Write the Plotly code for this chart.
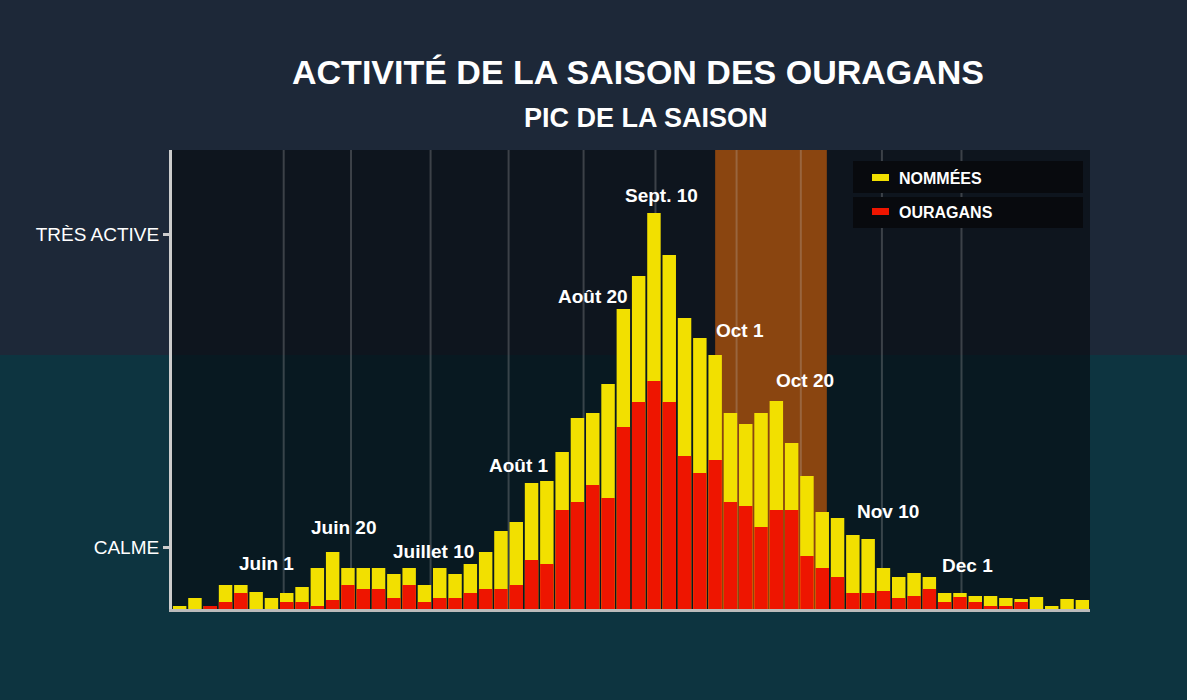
import plotly.graph_objects as go

days = list(range(1, 61))
nommees = [3,11,3,24,24,17,11,16,22,41,57,41,41,41,35,41,24,41,35,45,57,78,87,126,128,157,191,196,225,300,
           333,396,354,291,271,254,196,185,196,208,166,133,97,91,74,70,41,32,36,32,16,16,13,13,11,10,12,3,10,9]
ouragans = [0,0,3,7,16,0,0,7,7,3,9,24,20,20,11,24,7,11,11,16,20,20,24,49,45,99,107,124,111,182,
            207,228,207,153,136,149,107,103,82,99,99,53,41,32,16,16,18,11,13,20,7,12,7,3,3,7,0,0,0,0]
ytick_vals = [62, 375]
ytick_text = ["CALME", "TRÈS ACTIVE"]
grid_x = [7.8, 12.2, 17.4, 22.5, 27.4, 32.1, 37.4, 41.6, 46.9, 52.1]
labels = ["Juin 1", "Juin 20", "Juillet 10", "Août 1", "Août 20", "Sept. 10", "Oct 1", "Oct 20", "Nov 10", "Dec 1"]
label_x = [6.7, 11.7, 17.6, 23.2, 28.0, 32.5, 37.6, 41.9, 47.3, 52.5]
label_y = [46, 82, 58, 144, 313, 414, 279, 229, 98, 44]

F = "Liberation Sans"
fig = go.Figure()
fig.add_trace(go.Bar(x=days, y=nommees, marker=dict(color="#f2e000", line=dict(width=0)), name="NOMMÉES"))
fig.add_trace(go.Bar(x=days, y=ouragans, marker=dict(color="#ee1500", line=dict(width=0)), name="OURAGANS"))

def px(x): return (x - 172) / 918
def py(y): return (609 - y) / 459

shapes = [
    dict(type="rect", xref="paper", yref="paper", x0=-1, x1=2, y0=-1, y1=py(355), fillcolor="#0d3440", line_width=0, layer="below"),
    dict(type="rect", xref="paper", yref="paper", x0=0, x1=1, y0=0, y1=1, fillcolor="rgba(5,8,14,0.6)", line_width=0, layer="below"),
    dict(type="rect", xref="x", yref="paper", x0=36.0, x1=43.3, y0=0, y1=1, fillcolor="#8a4510", line_width=0, layer="below"),
]
for gx in grid_x:
    shapes.append(dict(type="line", xref="x", yref="paper", x0=gx, x1=gx, y0=0, y1=1, line=dict(color="rgba(200,200,200,0.25)", width=2), layer="below"))
shapes += [
    dict(type="rect", xref="paper", yref="paper", x0=px(853), x1=px(1083), y0=py(193), y1=py(161), fillcolor="#080a0e", line_width=0),
    dict(type="rect", xref="paper", yref="paper", x0=px(853), x1=px(1083), y0=py(228), y1=py(197), fillcolor="#080a0e", line_width=0),
    dict(type="rect", xref="paper", yref="paper", x0=px(872), x1=px(889), y0=py(181), y1=py(174), fillcolor="#f2e000", line_width=0),
    dict(type="rect", xref="paper", yref="paper", x0=px(872), x1=px(889), y0=py(215), y1=py(208), fillcolor="#ee1500", line_width=0),
]
ann = []
for t, x, y in zip(labels, label_x, label_y):
    ann.append(dict(x=x, y=y, text="<b>" + t + "</b>", showarrow=False, font=dict(family=F, size=19, color="white"), xanchor="center", yanchor="middle"))
ann += [
    dict(xref="paper", yref="paper", x=px(897), y=py(178), text="<b>NOMMÉES</b>", showarrow=False, xanchor="left", yanchor="middle", font=dict(family=F, size=16, color="white")),
    dict(xref="paper", yref="paper", x=px(897), y=py(212), text="<b>OURAGANS</b>", showarrow=False, xanchor="left", yanchor="middle", font=dict(family=F, size=16, color="white")),
    dict(xref="paper", yref="paper", x=px(638), y=py(72), text="<b>ACTIVITÉ DE LA SAISON DES OURAGANS</b>", showarrow=False, yanchor="middle", font=dict(family=F, size=34, color="white")),
    dict(xref="paper", yref="paper", x=px(646), y=py(118), text="<b>PIC DE LA SAISON</b>", showarrow=False, yanchor="middle", font=dict(family=F, size=27, color="white")),
]
fig.update_layout(
    width=1187, height=700, barmode="overlay", bargap=0.12, showlegend=False,
    paper_bgcolor="#1d2838", plot_bgcolor="rgba(0,0,0,0)",
    margin=dict(l=172, r=97, t=150, b=91),
    xaxis=dict(range=[0.5, 60.5], showticklabels=False, showgrid=False, zeroline=False,
               showline=True, linecolor="#bbbbbb", linewidth=3, fixedrange=True),
    yaxis=dict(range=[0, 459], tickvals=ytick_vals, ticktext=ytick_text, showgrid=False, zeroline=False,
               showline=True, linecolor="#cccccc", linewidth=3, ticks="outside", ticklen=6, tickwidth=3,
               tickcolor="#cccccc", tickfont=dict(family=F, size=19, color="white")),
    shapes=shapes, annotations=ann,
)
fig.write_html("out.html", config={"displayModeBar": False},
               post_script="document.body.style.margin='0';document.body.style.overflow='hidden';")
